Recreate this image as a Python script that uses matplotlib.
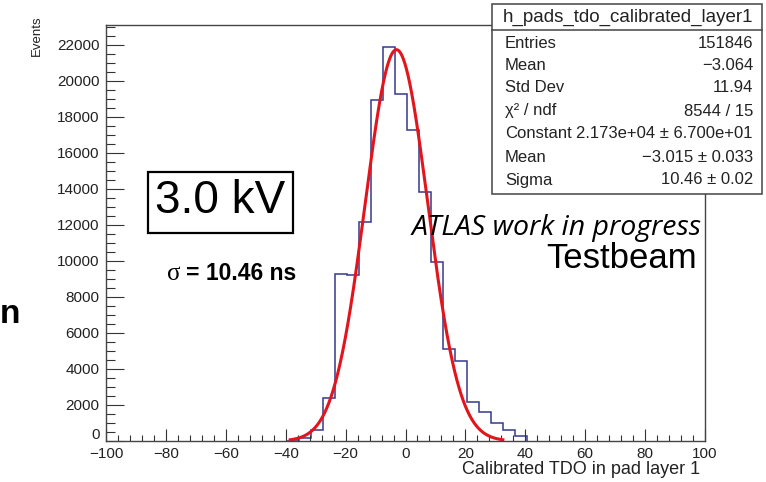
import numpy as np
import matplotlib
matplotlib.use("Agg")
import matplotlib.pyplot as plt
from matplotlib.patches import Rectangle
from matplotlib.ticker import MultipleLocator, FuncFormatter

plt.rcParams['font.family'] = ['Liberation Sans', 'DejaVu Sans']

# histogram (bin width 4)
bin_edges = [-39.5, -35.5, -31.5, -27.5, -23.5, -19.5, -15.5, -11.5, -7.5, -3.5, 0.5,
             4.5, 8.5, 12.5, 16.5, 20.5, 24.5, 28.5, 32.5, 36.5, 40.5]
counts = [0, 150, 620, 2360, 9300, 9230, 12160, 18940, 21890, 19280, 17250,
          13820, 9950, 5120, 4440, 2170, 1600, 1000, 600, 250]

# gaussian fit parameters from the stats box
fit_const = 21730
fit_mean = -3.015
fit_sigma = 10.46
fit_lo, fit_hi = -38.5, 32.5

stat_names = ["Entries", "Mean", "Std Dev", "χ² / ndf", "Constant", "Mean", "Sigma"]
stat_values = ["151846", "−3.064", "11.94", "8544 / 15",
               "2.173e+04 ± 6.700e+01", "−3.015 ± 0.033", "10.46 ± 0.02"]

W, H = 766, 482
fig = plt.figure(figsize=(W / 100, H / 100), dpi=100)

# main pad, placed in pixels
L, R, T, B = 106, 705, 25, 441
ax = fig.add_axes([L / W, 1 - B / H, (R - L) / W, (B - T) / H])
ax.stairs(counts, bin_edges, baseline=0, color='#34398c', lw=1.1)
xf = np.linspace(fit_lo, fit_hi, 400)
ax.plot(xf, fit_const * np.exp(-0.5 * ((xf - fit_mean) / fit_sigma) ** 2),
        color='#e3151c', lw=2.2)

ax.set_xlim(-100, 100)
ax.set_ylim(0, 23100)
ax.xaxis.set_major_locator(MultipleLocator(20))
ax.xaxis.set_minor_locator(MultipleLocator(4))
ax.yaxis.set_major_locator(MultipleLocator(2000))
ax.yaxis.set_minor_locator(MultipleLocator(500))
# y zero label is drawn by hand a little higher, as ROOT does
ax.yaxis.set_major_formatter(FuncFormatter(lambda v, p: '' if v == 0 else f'{v:.0f}'))
ax.tick_params(axis='both', which='both', direction='in', color='#333333',
               labelcolor='#222222', labelsize=11, width=0.8)
ax.tick_params(axis='x', which='major', length=8.6, pad=4)
ax.tick_params(axis='x', which='minor', length=4.3)
ax.tick_params(axis='y', which='major', length=13, pad=4.5)
ax.tick_params(axis='y', which='minor', length=6.5)
for s in ax.spines.values():
    s.set_color('#444444')
    s.set_linewidth(1.0)

# overlay in pixel coordinates for all the annotations
ov = fig.add_axes([0, 0, 1, 1], facecolor='none')
ov.set_xlim(0, W)
ov.set_ylim(H, 0)
ov.axis('off')

ov.text(100, 442, "0", ha='right', va='bottom', fontsize=11, color='#222222')
ov.text(37, 15, "Events", rotation=90, ha='center', va='top', fontsize=9.5, color='#222222')
ov.text(700, 470, "Calibrated TDO in pad layer 1", ha='right', va='center',
        fontsize=13, color='#222222')

# stats box
ov.add_patch(Rectangle((492, 4), 270, 190, facecolor='white', edgecolor='#444444', lw=1.1))
ov.plot([492, 762], [30, 30], color='#444444', lw=1.1)
ov.text(628, 17, "h_pads_tdo_calibrated_layer1", ha='center', va='center', fontsize=13.5,
        color='#222222')
row_y = [43, 65, 88, 111, 134, 157, 180]
for name, val, y in zip(stat_names, stat_values, row_y):
    ov.text(505, y, name, ha='left', va='center', fontsize=12, color='#222222')
    ov.text(753, y, val, ha='right', va='center', fontsize=12, color='#222222')

# voltage box
ov.add_patch(Rectangle((148, 172), 145, 61, facecolor='white', edgecolor='black', lw=1.6))
ov.text(220, 201, "3.0 kV", ha='center', va='center', fontsize=33)

ov.text(180, 280, "σ", ha='right', va='baseline', fontsize=18, family='Liberation Serif')
ov.text(186, 280, "= 10.46 ns", ha='left', va='baseline', fontsize=16.5, fontweight='bold')

ov.text(702, 235, "ATLAS work in progress", ha='right', va='baseline', fontsize=20.5,
        style='italic', family=['Open Sans', 'DejaVu Sans'])
ov.text(697, 268, "Testbeam", ha='right', va='baseline', fontsize=25)

ov.text(0, 323, "n", ha='left', va='baseline', fontsize=24, fontweight='bold')

fig.savefig("out.png", dpi=100)
